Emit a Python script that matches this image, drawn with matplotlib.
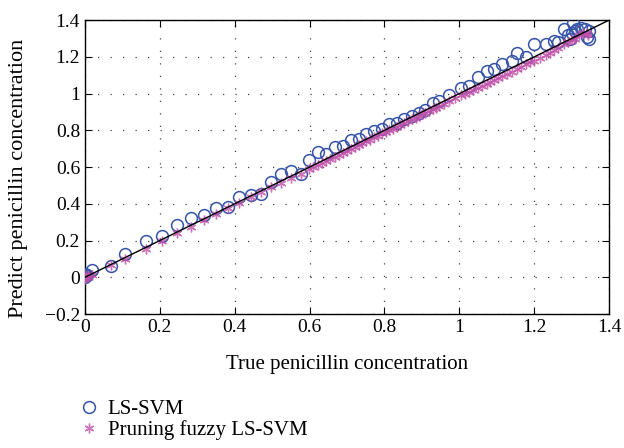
import matplotlib
matplotlib.use("Agg")
import matplotlib.pyplot as plt
import numpy as np

# ── Data ────────────────────────────────────────────────────────────────────
svm_true = [0.0, 0.0, 0.0, 0.005, 0.018, 0.069, 0.107, 0.164, 0.206, 0.246,
            0.283, 0.318, 0.351, 0.382, 0.413, 0.443, 0.471, 0.498, 0.524,
            0.551, 0.576, 0.598, 0.622, 0.643, 0.667, 0.689, 0.711, 0.731,
            0.751, 0.773, 0.794, 0.813, 0.833, 0.853, 0.874, 0.893, 0.909,
            0.929, 0.945, 0.973, 1.004, 1.027, 1.049, 1.073, 1.093, 1.115,
            1.142, 1.155, 1.178, 1.2, 1.231, 1.253, 1.265, 1.28, 1.29, 1.30,
            1.304, 1.315, 1.324, 1.335, 1.347, 1.347, 1.34, 1.31, 1.295]
svm_pred = [0.0, 0.01, 0.02, 0.01, 0.038, 0.06, 0.129, 0.2, 0.224, 0.286,
            0.322, 0.337, 0.379, 0.382, 0.436, 0.449, 0.455, 0.518, 0.563,
            0.578, 0.56, 0.641, 0.681, 0.672, 0.712, 0.717, 0.748, 0.754,
            0.781, 0.795, 0.808, 0.832, 0.839, 0.862, 0.88, 0.895, 0.913,
            0.949, 0.962, 0.993, 1.029, 1.043, 1.089, 1.125, 1.134, 1.161,
            1.179, 1.221, 1.197, 1.27, 1.27, 1.288, 1.28, 1.352, 1.32, 1.33,
            1.384, 1.35, 1.36, 1.35, 1.342, 1.297, 1.31, 1.34, 1.3]

pf_true = [0.0, 0.0, 0.0, 0.003, 0.008, 0.02, 0.07, 0.107, 0.164, 0.206,
           0.246, 0.283, 0.318, 0.351, 0.382, 0.413, 0.443, 0.471, 0.498,
           0.524, 0.551, 0.576, 0.598, 0.61, 0.622, 0.633, 0.643, 0.655,
           0.667, 0.678, 0.689, 0.70, 0.711, 0.721, 0.731, 0.741, 0.751,
           0.762, 0.773, 0.784, 0.794, 0.803, 0.813, 0.823, 0.833, 0.843,
           0.853, 0.864, 0.874, 0.884, 0.893, 0.901, 0.909, 0.919, 0.929,
           0.937, 0.945, 0.959, 0.973, 0.988, 1.004, 1.015, 1.027, 1.038,
           1.049, 1.061, 1.073, 1.083, 1.093, 1.104, 1.115, 1.128, 1.142,
           1.155, 1.166, 1.178, 1.189, 1.2, 1.215, 1.231, 1.242, 1.253,
           1.265, 1.28, 1.29, 1.30, 1.31, 1.32, 1.33, 1.34, 1.345]
pf_pred = [0.0, -0.01, 0.01, 0.0, 0.005, 0.015, 0.065, 0.1, 0.155, 0.2,
           0.24, 0.275, 0.31, 0.345, 0.375, 0.405, 0.435, 0.462, 0.49,
           0.515, 0.54, 0.565, 0.59, 0.598, 0.61, 0.62, 0.632, 0.642,
           0.655, 0.665, 0.678, 0.688, 0.70, 0.708, 0.72, 0.73, 0.74,
           0.75, 0.762, 0.772, 0.783, 0.79, 0.80, 0.81, 0.82, 0.83,
           0.84, 0.85, 0.86, 0.87, 0.88, 0.887, 0.895, 0.905, 0.915,
           0.922, 0.93, 0.945, 0.96, 0.975, 0.99, 1.0, 1.01, 1.02,
           1.03, 1.043, 1.055, 1.065, 1.075, 1.085, 1.095, 1.108, 1.12,
           1.135, 1.147, 1.16, 1.17, 1.18, 1.195, 1.21, 1.222, 1.235,
           1.25, 1.27, 1.28, 1.29, 1.30, 1.32, 1.33, 1.33, 1.32]

ref_line = [0.0, 1.4]

# ── Plot ─────────────────────────────────────────────────────────────────────
plt.rcParams["font.family"] = ["Liberation Serif", "DejaVu Serif"]

fig = plt.figure(figsize=(6.24, 4.48), dpi=100)
ax = fig.add_axes([0.136, 0.299, 0.840, 0.656])

C_SVM = "#3553a8"
C_PF = "#c050a8"

ax.plot(svm_true, svm_pred, linestyle="none", marker="o", markersize=8.5,
        markerfacecolor="none", markeredgecolor=C_SVM, markeredgewidth=1.1,
        label="LS-SVM", zorder=3)
ax.plot(pf_true, pf_pred, linestyle="none", marker=(6, 2, 0), markersize=7,
        markeredgecolor=C_PF, markerfacecolor=C_PF, markeredgewidth=1.0,
        alpha=0.8, label="Pruning fuzzy LS-SVM", zorder=3)
ax.plot(ref_line, ref_line, color="black", linewidth=1.0, zorder=4)

ax.set_xlim(0, 1.4)
ax.set_ylim(-0.2, 1.4)
ax.set_xticks(np.arange(0, 1.41, 0.2))
ax.set_yticks(np.arange(-0.2, 1.41, 0.2))
ax.set_xticklabels(["0", "0.2", "0.4", "0.6", "0.8", "1", "1.2", "1.4"])
ax.set_yticklabels(["\u22120.2", "0", "0.2", "0.4", "0.6", "0.8", "1", "1.2", "1.4"])
ax.tick_params(direction="in", top=True, right=True, labelsize=14, length=5)
ax.grid(True, linestyle=(0, (1, 9)), color="#444444", linewidth=0.9)
for s in ax.spines.values():
    s.set_linewidth(1.0)

ax.set_xlabel("True penicillin concentration", fontsize=15, labelpad=14)
ax.set_ylabel("Predict penicillin concentration", fontsize=16)
ax.yaxis.set_label_coords(-0.109, 0.463)

fig.legend(loc="upper left", bbox_to_anchor=(0.109, 0.126), frameon=False,
           fontsize=15, handletextpad=0.3, labelspacing=0.05, handlelength=1.2,
           borderaxespad=0)

fig.savefig("out.png", dpi=100)
